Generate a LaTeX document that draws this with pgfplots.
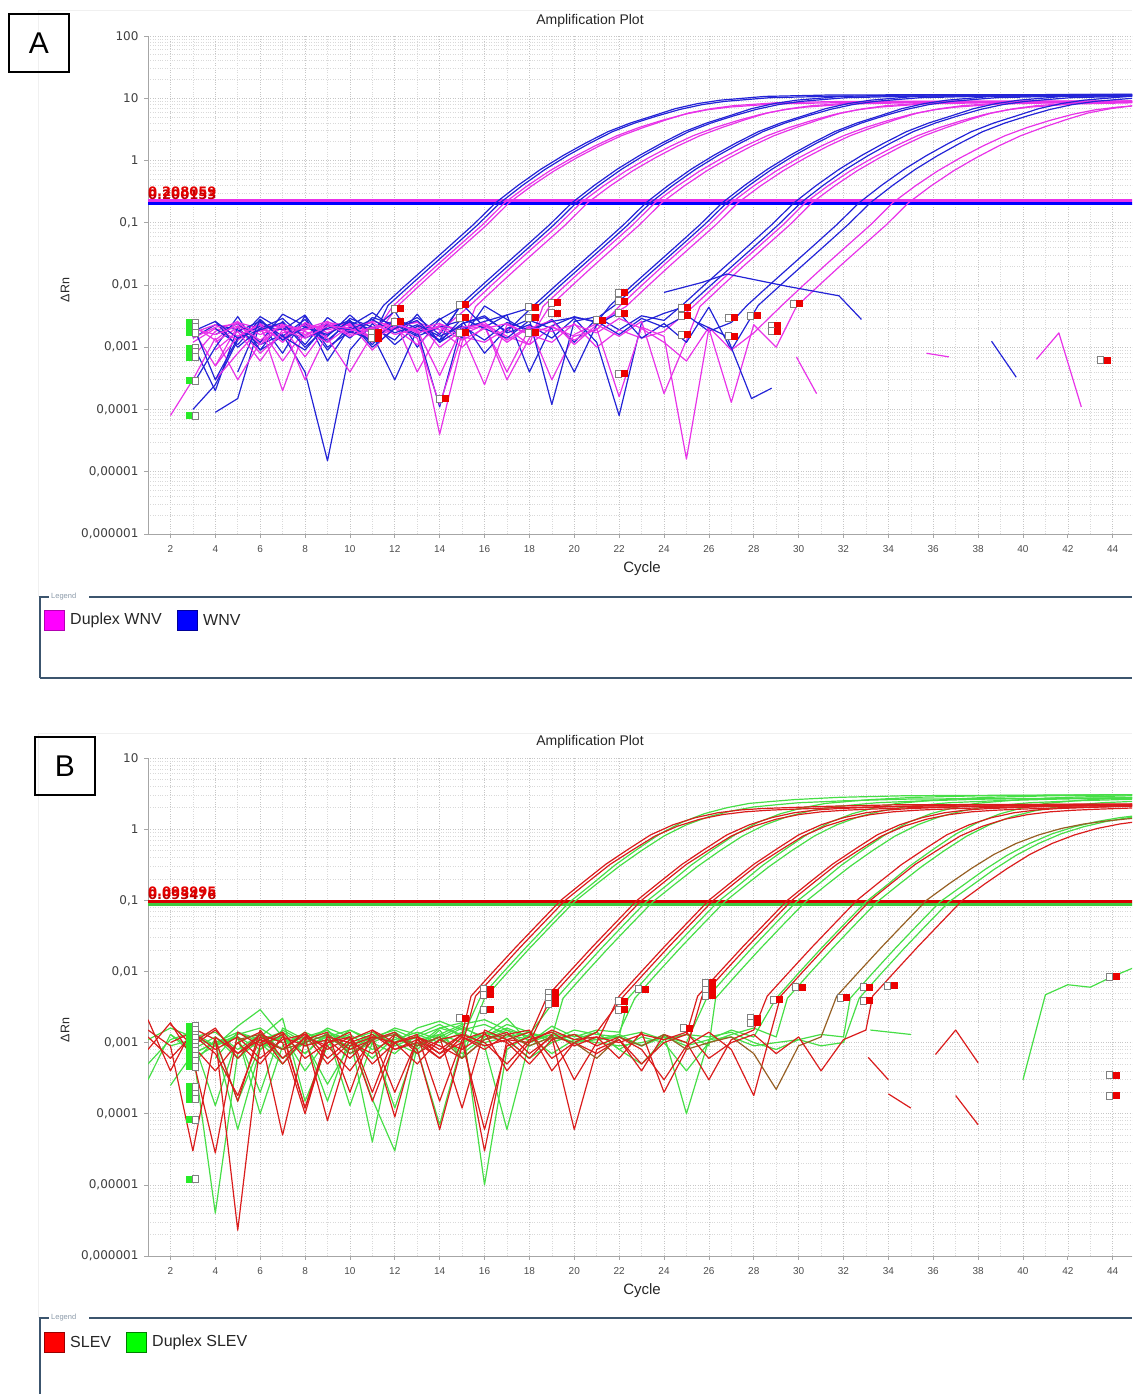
\documentclass[border=0pt]{standalone}
\usepackage{pgfplots}
\pgfplotsset{compat=1.18}
\usepackage{fontspec}
\setmainfont{Liberation Sans}
\newfontfamily\dvsans{DejaVu Sans}

\definecolor{wblue}{RGB}{35,35,215}
\definecolor{wmag}{RGB}{232,50,232}
\definecolor{sred}{RGB}{218,28,28}
\definecolor{sgreen}{RGB}{70,222,70}
\definecolor{sbrown}{RGB}{150,95,35}
\definecolor{mkgreen}{RGB}{40,235,40}
\definecolor{mkred}{RGB}{235,0,0}
\definecolor{legline}{RGB}{60,85,110}
\definecolor{thred}{RGB}{228,0,0}
\definecolor{thred2}{RGB}{190,0,0}
\definecolor{puremag}{RGB}{255,0,255}
\definecolor{pureblue}{RGB}{0,0,255}
\definecolor{purered}{RGB}{255,0,0}
\definecolor{puregreen}{RGB}{0,255,0}

% baseline start / end flags of the instrument software
\pgfdeclareplotmark{bstart}{%
  \pgfpathrectangle{\pgfpoint{-7pt}{-3.5pt}}{\pgfpoint{7pt}{7pt}}%
  \pgfsetfillcolor{mkgreen}\pgfusepath{fill}%
  \pgfpathrectangle{\pgfpoint{0pt}{-3.5pt}}{\pgfpoint{5.5pt}{7pt}}%
  \pgfsetfillcolor{white}\pgfsetstrokecolor{gray}\pgfsetlinewidth{0.8pt}%
  \pgfusepath{fill,stroke}}
\pgfdeclareplotmark{bend}{%
  \pgfpathrectangle{\pgfpoint{-6pt}{-3.5pt}}{\pgfpoint{6pt}{7pt}}%
  \pgfsetfillcolor{white}\pgfsetstrokecolor{gray}\pgfsetlinewidth{0.8pt}%
  \pgfusepath{fill,stroke}%
  \pgfpathrectangle{\pgfpoint{0pt}{-3.5pt}}{\pgfpoint{7pt}{7pt}}%
  \pgfsetfillcolor{mkred}\pgfusepath{fill}}

\newcommand\titlefont{\fontsize{14}{16}\selectfont}
\newcommand\ytickfont{\dvsans\fontsize{12}{14}\selectfont}
\newcommand\xtickfont{\fontsize{10}{12}\selectfont}

\pgfplotsset{
  wb/.style={color=wblue, line width=1.2pt, line join=round},
  wm/.style={color=wmag, line width=1.2pt, line join=round},
  sr/.style={color=sred, line width=1.2pt, line join=round},
  sg/.style={color=sgreen, line width=1.2pt, line join=round},
  sb/.style={color=sbrown, line width=1.2pt, line join=round},
}

\begin{document}
\begin{tikzpicture}
\path[use as bounding box] (0pt,0pt) rectangle (1132pt,1394pt);

% light panel frames
\draw[gray!12, line width=0.8pt] (38pt,797pt) -- (38pt,1384pt) -- (1132pt,1384pt);
\draw[gray!12, line width=0.8pt] (38pt,76pt) -- (38pt,661pt) -- (1132pt,661pt);

%=========================== Panel A: WNV ===========================
\begin{axis}[at={(148pt,860pt)}, anchor=south west,
    scale only axis, width=984pt, height=498pt,
    xmin=1, xmax=44.86, ymode=log, ymin=1e-6, ymax=100,
    axis x line*=bottom, axis y line*=left,
    axis line style={draw=gray!70, line width=0.8pt},
    xtick={2,4,...,44},
    xticklabels={2,4,6,8,10,12,14,16,18,20,22,24,26,28,30,32,34,36,38,40,42,44},
    minor x tick num=1,
    ytick={1e-6,1e-5,1e-4,1e-3,1e-2,1e-1,1,10,100},
    yticklabels={{0,000001},{0,00001},{0,0001},{0,001},{0,01},{0,1},1,10,100},
    minor ytick={2e-6,3e-6,4e-6,5e-6,6e-6,7e-6,8e-6,9e-6,
      2e-5,3e-5,4e-5,5e-5,6e-5,7e-5,8e-5,9e-5,
      2e-4,3e-4,4e-4,5e-4,6e-4,7e-4,8e-4,9e-4,
      2e-3,3e-3,4e-3,5e-3,6e-3,7e-3,8e-3,9e-3,
      0.02,0.03,0.04,0.05,0.06,0.07,0.08,0.09,
      0.2,0.3,0.4,0.5,0.6,0.7,0.8,0.9,
      2,3,4,5,6,7,8,9,20,30,40,50,60,70,80,90},
    grid=both,
    major grid style={gray!45, line width=0.6pt, dash pattern=on 0.8pt off 1.6pt},
    minor grid style={gray!30, line width=0.6pt, dash pattern=on 0.8pt off 1.6pt},
    tick align=outside, major tick length=4pt, minor tick length=0pt,
    tick style={gray!70, line width=0.7pt},
    xticklabel style={font=\xtickfont, text=black!70, yshift=-4pt},
    yticklabel style={font=\ytickfont, text=black!75, xshift=-2pt}]

% threshold lines
\addplot[color=wmag, line width=3pt] coordinates {(1,0.229)(46,0.229)};
\addplot[color=blue, line width=3.2pt] coordinates {(1,0.205)(46,0.205)};

% dilution 1
\addplot[wb] coordinates {(3,1.1e-3)(4,2e-4)(5,2.1e-3)(6,9e-4)(7,2.6e-3)(8,1.1e-3)(9,3.0e-3)(10,1.7e-3)(11,2.6e-3)
 (11.5,0.0047)(12.5,0.010)(13.5,0.021)(14.5,0.044)(15.5,0.093)(16.5,0.21)(17.5,0.40)(18.5,0.72)(19.5,1.2)(20.5,1.9)(21.5,2.9)(22.5,4.0)(23.5,5.2)(24.5,6.8)(25.5,8.2)(26.5,9.3)(28.5,10.7)(31.5,11.3)(45,11.5)};
\addplot[wb] coordinates {(4,9e-5)(5,1.5e-4)(6,2.5e-3)(7,8e-4)(8,3.2e-3)(9,6e-4)(10,2.1e-3)(11,1.4e-3)
 (11.7,0.0047)(12.7,0.010)(13.7,0.021)(14.7,0.044)(15.7,0.093)(16.7,0.21)(17.7,0.40)(18.7,0.72)(19.7,1.2)(20.7,1.9)(21.7,2.9)(22.7,4.0)(23.7,5.2)(24.7,6.6)(25.7,7.9)(26.7,8.9)(28.7,10.2)(31.7,10.8)(45,11.0)};
\addplot[wm] coordinates {(3,1.9e-3)(4,5e-4)(5,2.2e-3)(6,1.8e-3)(7,2.4e-3)(8,1.6e-3)(9,2.3e-3)(10,2.0e-3)(11,1.5e-3)
 (11.9,0.0045)(12.9,0.0098)(13.9,0.021)(14.9,0.044)(15.9,0.092)(16.9,0.21)(17.9,0.39)(18.9,0.68)(19.9,1.1)(20.9,1.7)(21.9,2.5)(22.9,3.4)(23.9,4.4)(24.9,5.5)(25.9,6.5)(26.9,7.2)(28.9,8.1)(31.9,8.5)(45,8.6)};
\addplot[wm] coordinates {(2,8e-5)(3,3e-4)(4,1.4e-3)(5,3e-4)(6,1.2e-3)(7,2.1e-3)(8,7e-4)(9,2.2e-3)(10,2.5e-3)(11,1.2e-3)
 (12.1,0.0045)(13.1,0.0098)(14.1,0.021)(15.1,0.044)(16.1,0.092)(17.1,0.21)(18.1,0.39)(19.1,0.68)(20.1,1.1)(21.1,1.7)(22.1,2.5)(23.1,3.4)(24.1,4.5)(25.1,5.8)(26.1,6.8)(27.1,7.6)(29.1,8.5)(32.1,8.9)(45,9.0)};

% dilution 2
\addplot[wb] coordinates {(3,1.4e-3)(4,2.3e-3)(5,1.9e-3)(6,1.1e-3)(7,1.6e-3)(8,4e-4)(9,1.5e-5)(10,9e-4)(11,2.4e-3)(12,1.1e-3)(13,2.2e-3)(14,1.3e-3)
 (14.9,0.0047)(15.9,0.010)(16.9,0.021)(17.9,0.044)(18.9,0.093)(19.9,0.21)(20.9,0.40)(21.9,0.72)(22.9,1.2)(23.9,1.9)(24.9,2.9)(25.9,4.0)(26.9,5.2)(27.9,6.8)(28.9,8.2)(29.9,9.3)(31.9,10.7)(34.9,11.3)(45,11.5)};
\addplot[wb] coordinates {(3,1.0e-4)(4,2.5e-4)(5,1.3e-3)(6,3.1e-3)(7,1.9e-3)(8,2.2e-3)(9,1.3e-3)(10,2.6e-3)(11,1.9e-3)(12,3.8e-3)(13,1.0e-3)(14,2.8e-3)
 (15.1,0.0047)(16.1,0.010)(17.1,0.021)(18.1,0.044)(19.1,0.093)(20.1,0.21)(21.1,0.40)(22.1,0.72)(23.1,1.2)(24.1,1.9)(25.1,2.9)(26.1,4.0)(27.1,5.2)(28.1,6.6)(29.1,7.9)(30.1,8.9)(32.1,10.2)(35.1,10.8)(45,11.0)};
\addplot[wm] coordinates {(3,1.2e-3)(4,2.0e-3)(5,1.3e-3)(6,2.3e-3)(7,2.1e-3)(8,1.5e-3)(9,2.5e-3)(10,2.2e-3)(11,1.9e-3)(12,2.7e-3)(13,4e-4)(14,1.8e-3)
 (15.3,0.0045)(16.3,0.0098)(17.3,0.021)(18.3,0.044)(19.3,0.092)(20.3,0.21)(21.3,0.39)(22.3,0.68)(23.3,1.1)(24.3,1.7)(25.3,2.5)(26.3,3.4)(27.3,4.4)(28.3,5.5)(29.3,6.5)(30.3,7.2)(32.3,8.1)(35.3,8.5)(45,8.6)};
\addplot[wm] coordinates {(4,3e-4)(5,8e-4)(6,2.0e-3)(7,6e-4)(8,1.9e-3)(9,2.3e-3)(10,1.8e-3)(11,2.6e-3)(12,2.2e-3)(13,2.0e-3)(14,4e-5)(15,1.2e-3)
 (15.6,0.0045)(16.6,0.0098)(17.6,0.021)(18.6,0.044)(19.6,0.092)(20.6,0.21)(21.6,0.39)(22.6,0.68)(23.6,1.1)(24.6,1.7)(25.6,2.5)(26.6,3.4)(27.6,4.5)(28.6,5.8)(29.6,6.8)(30.6,7.6)(32.6,8.5)(35.6,8.9)(45,9.0)};

% dilution 3
\addplot[wb] coordinates {(4,1.6e-3)(5,2.4e-3)(6,1.2e-3)(7,3.4e-3)(8,2.2e-3)(9,1.5e-3)(10,3.3e-3)(11,1.6e-3)(12,3e-4)(13,1.9e-3)(14,1.1e-4)(15,2.4e-3)(16,3.0e-3)(17,1.8e-3)
 (18.2,0.0047)(19.2,0.010)(20.2,0.021)(21.2,0.044)(22.2,0.093)(23.2,0.21)(24.2,0.40)(25.2,0.72)(26.2,1.2)(27.2,1.9)(28.2,2.9)(29.2,4.0)(30.2,5.2)(31.2,6.8)(32.2,8.2)(33.2,9.3)(35.2,10.7)(38.2,11.3)(45,11.5)};
\addplot[wb] coordinates {(3,2.5e-4)(4,1.0e-3)(5,3.1e-3)(6,9e-4)(7,1.5e-3)(8,2.8e-3)(9,9e-4)(10,2.2e-3)(11,3.6e-3)(12,2.0e-3)(13,3.0e-3)(14,1.6e-3)(15,4.9e-3)(16,2.1e-3)(17,3.3e-3)
 (18.4,0.0047)(19.4,0.010)(20.4,0.021)(21.4,0.044)(22.4,0.093)(23.4,0.21)(24.4,0.40)(25.4,0.72)(26.4,1.2)(27.4,1.9)(28.4,2.9)(29.4,4.0)(30.4,5.2)(31.4,6.6)(32.4,7.9)(33.4,8.9)(35.4,10.2)(38.4,10.8)(45,11.0)};
\addplot[wm] coordinates {(3,2.2e-3)(4,1.3e-3)(5,2.5e-3)(6,2.0e-3)(7,1.4e-3)(8,2.4e-3)(9,1.9e-3)(10,2.3e-3)(11,1.7e-3)(12,2.1e-3)(13,1.4e-3)(14,1.2e-4)(15,1.6e-3)(16,2.3e-3)(17,1.5e-3)(18,1.1e-3)
 (18.6,0.0045)(19.6,0.0098)(20.6,0.021)(21.6,0.044)(22.6,0.092)(23.6,0.21)(24.6,0.39)(25.6,0.68)(26.6,1.1)(27.6,1.7)(28.6,2.5)(29.6,3.4)(30.6,4.4)(31.6,5.5)(32.6,6.5)(33.6,7.2)(35.6,8.1)(38.6,8.5)(45,8.6)};
\addplot[wm] coordinates {(3,7e-4)(4,1.8e-3)(5,2.6e-3)(6,1.1e-3)(7,2.2e-3)(8,3e-4)(9,1.7e-3)(10,2.4e-3)(11,9e-4)(12,2.2e-3)(13,2.5e-3)(14,1.9e-3)(15,1.0e-3)(16,2.2e-3)(17,3e-4)(18,1.4e-3)
 (18.9,0.0045)(19.9,0.0098)(20.9,0.021)(21.9,0.044)(22.9,0.092)(23.9,0.21)(24.9,0.39)(25.9,0.68)(26.9,1.1)(27.9,1.7)(28.9,2.5)(29.9,3.4)(30.9,4.5)(31.9,5.8)(32.9,6.8)(33.9,7.6)(35.9,8.5)(38.9,8.9)(45,9.0)};

% dilution 4
\addplot[wb] coordinates {(4,2.0e-3)(5,1.1e-3)(6,2.8e-3)(7,1.3e-3)(8,2.4e-3)(9,1.2e-3)(10,2.9e-3)(11,2.1e-3)(12,1.3e-3)(13,3.4e-3)(14,1.2e-3)(15,2.0e-3)(16,2.6e-3)(17,3.3e-3)(18,4e-4)(19,2.2e-3)(20,3.1e-3)(21,2.5e-3)
 (21.6,0.0047)(22.6,0.010)(23.6,0.021)(24.6,0.044)(25.6,0.093)(26.6,0.21)(27.6,0.40)(28.6,0.72)(29.6,1.2)(30.6,1.9)(31.6,2.9)(32.6,4.0)(33.6,5.2)(34.6,6.8)(35.6,8.2)(36.6,9.3)(38.6,10.7)(41.6,11.3)(45,11.5)};
\addplot[wb] coordinates {(3,2.3e-3)(4,3.0e-4)(5,1.4e-3)(6,2.2e-3)(7,1.9e-3)(8,3.3e-3)(9,1.0e-3)(10,1.8e-3)(11,1.3e-3)(12,2.4e-3)(13,1.6e-3)(14,2.9e-3)(15,1.4e-3)(16,4.6e-3)(17,2.8e-3)(18,1.7e-3)(19,2.8e-3)(20,1.2e-3)(21,2.9e-3)
 (21.8,0.0047)(22.8,0.010)(23.8,0.021)(24.8,0.044)(25.8,0.093)(26.8,0.21)(27.8,0.40)(28.8,0.72)(29.8,1.2)(30.8,1.9)(31.8,2.9)(32.8,4.0)(33.8,5.2)(34.8,6.6)(35.8,7.9)(36.8,8.9)(38.8,10.2)(41.8,10.8)(45,11.0)};
\addplot[wm] coordinates {(3,1.7e-3)(4,2.3e-3)(5,1.5e-3)(6,2.4e-3)(7,2e-4)(8,2.0e-3)(9,2.6e-3)(10,1.6e-3)(11,2.1e-3)(12,2.4e-3)(13,1.8e-3)(14,2.2e-3)(15,1.5e-3)(16,1.2e-3)(17,2.0e-3)(18,1.1e-3)(19,2.1e-3)(20,1.5e-3)(21,1.9e-3)
 (22,0.0045)(23,0.0098)(24,0.021)(25,0.044)(26,0.092)(27,0.21)(28,0.39)(29,0.68)(30,1.1)(31,1.7)(32,2.5)(33,3.4)(34,4.4)(35,5.5)(36,6.5)(37,7.2)(39,8.1)(42,8.5)(45,8.6)};
\addplot[wm] coordinates {(4,1.2e-3)(5,2.1e-3)(6,8e-4)(7,1.7e-3)(8,2.3e-3)(9,1.4e-3)(10,4e-4)(11,1.6e-3)(12,2.0e-3)(13,1.1e-3)(14,2.3e-3)(15,1.9e-3)(16,2.5e-3)(17,1.3e-3)(18,2.2e-3)(19,3e-4)(20,1.6e-3)(21,2.4e-3)
 (22.3,0.0045)(23.3,0.0098)(24.3,0.021)(25.3,0.044)(26.3,0.092)(27.3,0.21)(28.3,0.39)(29.3,0.68)(30.3,1.1)(31.3,1.7)(32.3,2.5)(33.3,3.4)(34.3,4.5)(35.3,5.8)(36.3,6.8)(37.3,7.6)(39.3,8.5)(42.3,8.9)(45,9.0)};

% dilution 5
\addplot[wb] coordinates {(5,1.8e-3)(6,2.6e-3)(7,1.5e-3)(8,9e-4)(9,2.4e-3)(10,1.4e-3)(11,3.0e-3)(12,2.3e-3)(13,1.5e-3)(14,2.1e-3)(15,2.7e-3)(16,8e-4)(17,2.0e-3)(18,2.8e-3)(19,1.2e-4)(20,2.6e-3)(21,3.1e-3)(22,1.9e-3)(23,3.2e-3)(24,2.7e-3)
 (24.8,0.0047)(25.8,0.010)(26.8,0.021)(27.8,0.044)(28.8,0.093)(29.8,0.21)(30.8,0.40)(31.8,0.72)(32.8,1.2)(33.8,1.9)(34.8,2.9)(35.8,4.0)(36.8,5.2)(37.8,6.8)(38.8,8.2)(39.8,9.3)(41.8,10.7)(44.8,11.3)(46,11.4)};
\addplot[wb] coordinates {(3,1.8e-3)(4,2.6e-3)(5,1.0e-3)(6,2.0e-3)(7,2.9e-3)(8,1.4e-3)(9,2.0e-3)(10,2.7e-3)(11,1.1e-3)(12,2.9e-3)(13,2.0e-3)(14,1.3e-3)(15,2.4e-3)(16,3.2e-3)(17,1.7e-3)(18,2.3e-3)(19,1.4e-3)(20,2.9e-3)(21,1.2e-3)(22,8e-5)(23,2.5e-3)(24,3.5e-3)
 (25.1,0.0047)(26.1,0.010)(27.1,0.021)(28.1,0.044)(29.1,0.093)(30.1,0.21)(31.1,0.40)(32.1,0.72)(33.1,1.2)(34.1,1.9)(35.1,2.9)(36.1,4.0)(37.1,5.2)(38.1,6.6)(39.1,7.9)(40.1,8.9)(42.1,10.2)(45.1,10.8)};
\addplot[wm] coordinates {(3,1.4e-3)(4,2.1e-3)(5,2.4e-3)(6,1.6e-3)(7,2.2e-3)(8,1.8e-3)(9,1.2e-3)(10,2.2e-3)(11,2.5e-3)(12,1.6e-3)(13,2.0e-3)(14,2.4e-3)(15,1.7e-3)(16,2.5e-4)(17,2.3e-3)(18,1.6e-3)(19,1.2e-3)(20,2.4e-3)(21,1.0e-3)(22,1.9e-3)(23,1.4e-3)(24,1.8e-3)
 (25.3,0.0045)(26.3,0.0098)(27.3,0.021)(28.3,0.044)(29.3,0.092)(30.3,0.21)(31.3,0.39)(32.3,0.68)(33.3,1.1)(34.3,1.7)(35.3,2.5)(36.3,3.4)(37.3,4.4)(38.3,5.5)(39.3,6.5)(40.3,7.2)(42.3,8.1)(45.3,8.5)};
\addplot[wm] coordinates {(4,5e-4)(5,1.5e-3)(6,2.3e-3)(7,1.2e-3)(8,2.5e-3)(9,1.7e-3)(10,2.4e-3)(11,1.4e-3)(12,2.0e-3)(13,2.6e-3)(14,1.0e-3)(15,1.9e-3)(16,2.2e-3)(17,4e-4)(18,2.0e-3)(19,2.7e-3)(20,1.1e-3)(21,2.3e-3)(22,1.5e-3)(23,2.6e-3)(24,1.8e-4)(25,1.3e-3)
 (25.6,0.0045)(26.6,0.0098)(27.6,0.021)(28.6,0.044)(29.6,0.092)(30.6,0.21)(31.6,0.39)(32.6,0.68)(33.6,1.1)(34.6,1.7)(35.6,2.5)(36.6,3.4)(37.6,4.5)(38.6,5.8)(39.6,6.8)(40.6,7.6)(42.6,8.5)(45.6,8.9)};

% dilution 6
\addplot[wb] coordinates {(4,2.6e-3)(5,1.4e-3)(6,1.9e-3)(7,2.5e-3)(8,1.0e-3)(9,2.2e-3)(10,1.9e-3)(11,2.8e-3)(12,1.7e-3)(13,2.3e-3)(14,1.5e-3)(15,2.2e-3)(16,1.3e-3)(17,2.5e-3)(18,1.9e-3)(19,2.6e-3)(20,3.0e-3)(21,2.6e-3)(22,1.6e-3)(23,2.9e-3)(24,2.1e-3)(25,3.3e-3)(26,1.8e-3)(27,2.5e-3)
 (27.7,0.0047)(28.7,0.010)(29.7,0.021)(30.7,0.044)(31.7,0.093)(32.7,0.21)(33.7,0.40)(34.7,0.72)(35.7,1.2)(36.7,1.9)(37.7,2.9)(38.7,4.0)(39.7,5.2)(40.7,6.8)(41.7,8.2)(42.7,9.3)(44.7,10.7)(46,11.0)};
\addplot[wb] coordinates {(5,4e-4)(6,2.8e-3)(7,1.3e-3)(8,2.1e-3)(9,1.6e-3)(10,2.6e-3)(11,1.0e-3)(12,2.0e-3)(13,2.7e-3)(14,1.2e-3)(15,2.9e-3)(16,2.0e-3)(17,1.4e-3)(18,2.7e-3)(19,2.0e-3)(20,4e-4)(21,2.3e-3)(22,3.6e-3)(23,1.4e-3)(24,2.4e-3)(25,1.2e-3)(26,4.4e-3)(27,9e-4)
 (28.2,0.0047)(29.2,0.010)(30.2,0.021)(31.2,0.044)(32.2,0.093)(33.2,0.21)(34.2,0.40)(35.2,0.72)(36.2,1.2)(37.2,1.9)(38.2,2.9)(39.2,4.0)(40.2,5.2)(41.2,6.6)(42.2,7.9)(43.2,8.9)(45.2,10.2)};
\addplot[wm] coordinates {(3,2.0e-3)(4,1.6e-3)(5,2.2e-3)(6,1.3e-3)(7,2.3e-3)(8,1.9e-3)(9,2.4e-3)(10,1.5e-3)(11,2.0e-3)(12,2.3e-3)(13,1.9e-3)(14,3.5e-4)(15,2.1e-3)(16,2.3e-3)(17,1.2e-3)(18,2.1e-3)(19,1.8e-3)(20,2.3e-3)(21,1.7e-3)(22,2.9e-3)(23,2.0e-3)(24,1.2e-3)(25,6e-4)(26,2.1e-3)(27,9e-4)(28,1.7e-3)
 (29.2,0.0045)(30.2,0.0098)(31.2,0.021)(32.2,0.044)(33.2,0.092)(34.2,0.21)(35.2,0.39)(36.2,0.68)(37.2,1.1)(38.2,1.7)(39.2,2.5)(40.2,3.4)(41.2,4.4)(42.2,5.5)(43.2,6.5)(44.2,7.2)(46.2,8.1)};
\addplot[wm] coordinates {(4,9e-4)(5,1.8e-3)(6,6e-4)(7,1.9e-3)(8,1.4e-3)(9,2.2e-3)(10,2.0e-3)(11,1.4e-3)(12,2.5e-3)(13,1.7e-3)(14,2.1e-3)(15,1.3e-3)(16,2.0e-3)(17,2.4e-3)(18,1.6e-3)(19,2.2e-3)(20,1.3e-3)(21,2.0e-3)(22,1.6e-4)(23,2.1e-3)(24,1.5e-3)(25,1.6e-5)(26,2.0e-3)(27,1.3e-4)(28,2.3e-3)(29,1.0e-3)
 (29.9,0.0045)(30.9,0.0098)(31.9,0.021)(32.9,0.044)(33.9,0.092)(34.9,0.21)(35.9,0.39)(36.9,0.68)(37.9,1.1)(38.9,1.7)(39.9,2.5)(40.9,3.4)(41.9,4.5)(42.9,5.8)(43.9,6.8)(44.9,7.6)};

% negative controls and late fragments
\addplot[wb] coordinates {(24,7.6e-3)(25.7,1.1e-2)(26.8,1.5e-2)(29.5,9.5e-3)(31.8,6.7e-3)(32.8,2.8e-3)};
\addplot[wb] coordinates {(25.5,2.5e-3)(26.8,1.5e-3)(27.9,1.5e-4)(28.8,2.2e-4)};
\addplot[wb] coordinates {(38.6,1.25e-3)(39.7,3.3e-4)};
\addplot[wm] coordinates {(29.9,7e-4)(30.8,1.8e-4)};
\addplot[wm] coordinates {(35.7,8e-4)(36.7,7e-4)};
\addplot[wm] coordinates {(40.6,6.4e-4)(41.6,1.7e-3)(42.6,1.1e-4)};

% baseline flags
\addplot[only marks, mark=bstart] coordinates {(3,2.5e-3)(3,2.1e-3)(3,1.7e-3)(3,9.7e-4)(3,8.3e-4)(3,6.9e-4)(3,2.9e-4)(3,8e-5)};
\addplot[only marks, mark=bend] coordinates {(11.1,1.7e-3)(11.1,1.4e-3)(12.1,4.2e-3)(12.1,2.6e-3)(14.1,1.5e-4)(15,4.8e-3)(15,3.0e-3)(15,1.7e-3)(18.1,4.4e-3)(18.1,3.0e-3)(18.1,1.7e-3)(19.1,5.2e-3)(19.1,3.5e-3)(21.1,2.7e-3)(22.1,7.5e-3)(22.1,5.5e-3)(22.1,3.5e-3)(22.1,3.8e-4)(24.9,4.3e-3)(24.9,3.2e-3)(24.9,1.6e-3)(27,3.0e-3)(27,1.5e-3)(28,3.2e-3)(28.9,2.2e-3)(28.9,1.8e-3)(29.9,5.0e-3)(43.6,6.2e-4)};

% threshold values
\node[anchor=south west, inner sep=0pt, text=thred2, font=\dvsans\bfseries\fontsize{13}{13}\selectfont] at (axis cs:1,0.232) {0.200153};
\node[anchor=south west, inner sep=0pt, text=thred, font=\dvsans\bfseries\fontsize{13}{13}\selectfont] at (axis cs:1,0.262) {0.208059};
\end{axis}

\node[font=\titlefont, text=black!85] at (590pt,1373pt) {Amplification Plot};
\node[font=\fontsize{12.5}{14}\selectfont, text=black!85, rotate=90] at (65pt,1104pt) {ΔRn};
\node[font=\fontsize{15}{17}\selectfont, text=black!85] at (642pt,825pt) {Cycle};
\draw[line width=1.3pt] (9pt,1322pt) rectangle (69pt,1380pt);
\node[font=\fontsize{30}{32}\selectfont] at (39pt,1351pt) {A};

% legend A
\draw[legline, line width=1.2pt] (40pt,716pt) -- (40pt,797pt) -- (49pt,797pt);
\node[anchor=west, inner sep=1pt, text=legline!60, font=\fontsize{7.5}{8}\selectfont] at (50pt,797pt) {Legend};
\draw[legline, line width=1.2pt] (89pt,797pt) -- (1132pt,797pt);
\draw[legline, line width=1.2pt] (40pt,716pt) -- (1132pt,716pt);
\filldraw[fill=puremag, draw=puremag!70!black, line width=0.6pt] (44pt,764pt) rectangle (64pt,784pt);
\node[anchor=west, inner sep=0pt, font=\fontsize{16}{18}\selectfont, text=black!85] at (70pt,774pt) {Duplex WNV};
\filldraw[fill=pureblue, draw=pureblue!60!black, line width=0.6pt] (177pt,764pt) rectangle (197pt,784pt);
\node[anchor=west, inner sep=0pt, font=\fontsize{16}{18}\selectfont, text=black!85] at (203pt,774pt) {WNV};

%=========================== Panel B: SLEV ===========================
\begin{axis}[at={(148pt,138pt)}, anchor=south west,
    scale only axis, width=984pt, height=498pt,
    xmin=1, xmax=44.86, ymode=log, ymin=1e-6, ymax=10,
    axis x line*=bottom, axis y line*=left,
    axis line style={draw=gray!70, line width=0.8pt},
    xtick={2,4,...,44},
    xticklabels={2,4,6,8,10,12,14,16,18,20,22,24,26,28,30,32,34,36,38,40,42,44},
    minor x tick num=1,
    ytick={1e-6,1e-5,1e-4,1e-3,1e-2,1e-1,1,10},
    yticklabels={{0,000001},{0,00001},{0,0001},{0,001},{0,01},{0,1},1,10},
    minor ytick={2e-6,3e-6,4e-6,5e-6,6e-6,7e-6,8e-6,9e-6,
      2e-5,3e-5,4e-5,5e-5,6e-5,7e-5,8e-5,9e-5,
      2e-4,3e-4,4e-4,5e-4,6e-4,7e-4,8e-4,9e-4,
      2e-3,3e-3,4e-3,5e-3,6e-3,7e-3,8e-3,9e-3,
      0.02,0.03,0.04,0.05,0.06,0.07,0.08,0.09,
      0.2,0.3,0.4,0.5,0.6,0.7,0.8,0.9,
      2,3,4,5,6,7,8,9},
    grid=both,
    major grid style={gray!45, line width=0.6pt, dash pattern=on 0.8pt off 1.6pt},
    minor grid style={gray!30, line width=0.6pt, dash pattern=on 0.8pt off 1.6pt},
    tick align=outside, major tick length=4pt, minor tick length=0pt,
    tick style={gray!70, line width=0.7pt},
    xticklabel style={font=\xtickfont, text=black!70, yshift=-4pt},
    yticklabel style={font=\ytickfont, text=black!75, xshift=-2pt}]

\addplot[color=sgreen!90!black, line width=3pt] coordinates {(1,0.088)(46,0.088)};
\addplot[color=red!85!black, line width=3.2pt] coordinates {(1,0.097)(46,0.097)};

% duplex SLEV
\addplot[sg] coordinates {(1,3e-4)(2,1.3e-3)(3,8e-4)(4,4e-6)(5,7e-4)(6,1.2e-3)(7,2.2e-3)(8,1.5e-4)(9,9e-4)(10,1.5e-3)(11,1.1e-3)(12,1.6e-3)(13,1.3e-3)(14,1.8e-3)(15,1.2e-3)
 (15.8,0.0042)(16.8,0.0095)(17.8,0.021)(18.8,0.045)(19.8,0.095)(20.8,0.17)(21.8,0.31)(22.8,0.52)(23.8,0.85)(24.8,1.25)(25.8,1.65)(26.8,2.0)(27.8,2.3)(28.8,2.45)(29.8,2.6)(31.8,2.8)(34.8,2.95)(45,3.05)};
\addplot[sg] coordinates {(2,9e-4)(3,1.1e-3)(4,1.3e-4)(5,1.2e-3)(6,2e-4)(7,1.6e-3)(8,1.1e-3)(9,1.5e-4)(10,1.2e-3)(11,4e-5)(12,1.4e-3)(13,8e-4)(14,1.5e-3)(15,6e-4)
 (16,0.0042)(17,0.0095)(18,0.021)(19,0.045)(20,0.095)(21,0.17)(22,0.30)(23,0.50)(24,0.80)(25,1.15)(26,1.50)(27,1.80)(28,2.05)(29,2.2)(30,2.35)(32,2.5)(35,2.65)(45,2.75)};
\addplot[sg] coordinates {(1,5e-4)(2,1.1e-3)(3,1.4e-3)(4,9e-4)(5,1.7e-3)(6,2.9e-3)(7,1.2e-3)(8,7e-4)(9,1.3e-3)(10,1.3e-4)(11,1.0e-3)(12,1.4e-3)(13,9e-4)(14,1.6e-3)(15,1.9e-3)(16,1.0e-5)(17,8e-4)(18,1.3e-3)
 (19.2,0.0042)(20.2,0.0095)(21.2,0.021)(22.2,0.045)(23.2,0.095)(24.2,0.17)(25.2,0.31)(26.2,0.52)(27.2,0.85)(28.2,1.25)(29.2,1.65)(30.2,2.0)(31.2,2.3)(32.2,2.45)(33.2,2.6)(35.2,2.8)(38.2,2.95)(45,3.05)};
\addplot[sg] coordinates {(2,2.5e-4)(3,7e-4)(4,1.0e-3)(5,6e-5)(6,8e-4)(7,1.5e-3)(8,1.0e-3)(9,1.6e-3)(10,1.2e-3)(11,1.6e-4)(12,3e-5)(13,9e-4)(14,1.2e-3)(15,1.7e-3)(16,1.1e-3)(17,1.5e-3)(18,9e-4)(19,1.2e-3)
 (19.5,0.0042)(20.5,0.0095)(21.5,0.021)(22.5,0.045)(23.5,0.095)(24.5,0.17)(25.5,0.30)(26.5,0.50)(27.5,0.80)(28.5,1.15)(29.5,1.50)(30.5,1.80)(31.5,2.05)(32.5,2.2)(33.5,2.35)(35.5,2.5)(38.5,2.65)(45,2.75)};
\addplot[sg] coordinates {(1,1.1e-3)(2,1.6e-3)(3,1.2e-3)(4,1.4e-3)(5,8e-4)(6,1.3e-3)(7,6e-4)(8,1.0e-3)(9,2.6e-4)(10,9e-4)(11,1.3e-3)(12,1.0e-3)(13,1.6e-3)(14,2.0e-3)(15,1.5e-3)(16,1.8e-3)(17,1.3e-3)(18,1.1e-3)(19,1.3e-3)(20,1.0e-3)(21,1.1e-3)(22,1.2e-3)
 (22.4,0.0042)(23.4,0.0095)(24.4,0.021)(25.4,0.045)(26.4,0.095)(27.4,0.17)(28.4,0.31)(29.4,0.52)(30.4,0.85)(31.4,1.25)(32.4,1.65)(33.4,2.0)(34.4,2.3)(35.4,2.45)(36.4,2.6)(38.4,2.8)(41.4,2.95)(45,3.05)};
\addplot[sg] coordinates {(3,5e-4)(4,1.1e-3)(5,1.5e-4)(6,9e-4)(7,1.2e-3)(8,7e-4)(9,1.4e-3)(10,1.1e-3)(11,6e-4)(12,1.2e-3)(13,8e-4)(14,7e-5)(15,1.0e-3)(16,1.3e-3)(17,2.2e-3)(18,1.0e-3)(19,1.7e-3)(20,1.2e-3)(21,1.5e-3)(22,1.4e-3)
 (22.7,0.0042)(23.7,0.0095)(24.7,0.021)(25.7,0.045)(26.7,0.095)(27.7,0.17)(28.7,0.30)(29.7,0.50)(30.7,0.80)(31.7,1.15)(32.7,1.50)(33.7,1.80)(34.7,2.05)(35.7,2.2)(36.7,2.35)(38.7,2.5)(41.7,2.65)(45,2.75)};
\addplot[sg] coordinates {(2,1.3e-3)(3,7e-4)(4,1.0e-3)(5,1.2e-3)(6,1e-4)(7,9e-4)(8,1.4e-3)(9,1.0e-3)(10,1.3e-3)(11,8e-4)(12,1.1e-3)(13,1.4e-3)(14,1.1e-3)(15,1.6e-3)(16,1.2e-3)(17,1.8e-3)(18,1.4e-3)(19,1.0e-3)(20,1.3e-3)(21,1.1e-3)(22,1.3e-3)(23,9e-4)(24,1.2e-3)(25,1.0e-3)
 (25.9,0.0042)(26.9,0.0095)(27.9,0.021)(28.9,0.045)(29.9,0.095)(30.9,0.17)(31.9,0.31)(32.9,0.52)(33.9,0.85)(34.9,1.25)(35.9,1.65)(36.9,2.0)(37.9,2.3)(38.9,2.45)(39.9,2.6)(41.9,2.8)(44.9,2.95)};
\addplot[sg] coordinates {(4,6e-4)(5,1.4e-3)(6,1.0e-3)(7,5e-4)(8,1.1e-3)(9,1.5e-3)(10,7e-4)(11,1.0e-3)(12,1.2e-4)(13,1.0e-3)(14,1.3e-3)(15,7e-4)(16,1.2e-3)(17,1.6e-3)(18,1.2e-3)(19,7e-4)(20,1.1e-3)(21,1.4e-3)(22,8e-4)(23,5e-4)(24,1.1e-3)(25,1.3e-3)(26,9e-4)
 (26.3,0.0042)(27.3,0.0095)(28.3,0.021)(29.3,0.045)(30.3,0.095)(31.3,0.17)(32.3,0.30)(33.3,0.50)(34.3,0.80)(35.3,1.15)(36.3,1.50)(37.3,1.80)(38.3,2.05)(39.3,2.2)(40.3,2.35)(42.3,2.5)(45.3,2.65)};
\addplot[sg] coordinates {(3,1.2e-3)(4,9e-4)(5,1.3e-3)(6,1.6e-3)(7,1.0e-3)(8,1.2e-3)(9,1.5e-3)(10,8e-4)(11,1.2e-3)(12,1.5e-3)(13,1.1e-3)(14,1.3e-3)(15,1.8e-3)(16,2.1e-3)(17,1.5e-3)(18,1.2e-3)(19,1.4e-3)(20,1.1e-3)(21,1.0e-3)(22,9e-4)(23,1.0e-3)(24,1.2e-3)(25,9e-4)(26,1.1e-3)(27,1.5e-3)(28,1.2e-3)
 (29,0.0042)(30,0.0095)(31,0.021)(32,0.045)(33,0.095)(34,0.17)(35,0.31)(36,0.52)(37,0.85)(38,1.25)(39,1.65)(40,2.0)(41,2.3)(42,2.45)(43,2.6)(45,2.8)};
\addplot[sg] coordinates {(3,8e-4)(4,1.2e-3)(5,6e-4)(6,1.1e-3)(7,1.4e-3)(8,9e-4)(9,1.2e-3)(10,1.5e-3)(11,1.0e-3)(12,7e-4)(13,1.3e-3)(14,1.0e-3)(15,1.4e-3)(16,9e-4)(17,6e-5)(18,1.0e-3)(19,1.3e-3)(20,1.0e-3)(21,1.4e-3)(22,8e-4)(23,1.2e-3)(24,1.0e-3)(25,4e-4)(26,1.0e-3)(27,1.3e-3)(28,1.6e-3)(29,1.2e-3)
 (29.5,0.0042)(30.5,0.0095)(31.5,0.021)(32.5,0.045)(33.5,0.095)(34.5,0.17)(35.5,0.30)(36.5,0.50)(37.5,0.80)(38.5,1.15)(39.5,1.50)(40.5,1.80)(41.5,2.05)(42.5,2.2)(43.5,2.35)(45.5,2.5)};
\addplot[sg] coordinates {(4,1.0e-3)(5,1.4e-3)(6,1.1e-3)(7,6e-4)(8,1.0e-3)(9,1.3e-3)(10,1.1e-3)(11,1.4e-3)(12,9e-4)(13,1.2e-3)(14,1.6e-3)(15,1.3e-3)(16,1.0e-3)(17,1.2e-3)(18,1.4e-3)(19,1.1e-3)(20,1.5e-3)(21,1.3e-3)(22,1.2e-3)(23,1.4e-3)(24,1.1e-3)(25,1.3e-3)(26,1.2e-3)(27,1.4e-3)(28,1.0e-3)(29,8e-4)(30,1.1e-3)(31,1.3e-3)(32,1.2e-3)
 (32.3,0.0042)(33.3,0.0095)(34.3,0.021)(35.3,0.045)(36.3,0.095)(37.3,0.16)(38.3,0.27)(39.3,0.43)(40.3,0.63)(41.3,0.86)(42.3,1.08)(43.3,1.28)(44.3,1.45)(45.3,1.58)};
\addplot[sg] coordinates {(3,6e-4)(4,9e-4)(5,1.2e-3)(6,8e-4)(7,1.3e-3)(8,4e-4)(9,1.1e-3)(10,9e-4)(11,1.2e-3)(12,1.0e-3)(13,7e-4)(14,1.3e-3)(15,1.0e-3)(16,1.4e-3)(17,1.1e-3)(18,6e-4)(19,1.0e-3)(20,1.3e-3)(21,1.1e-3)(22,1.2e-3)(23,9e-4)(24,1.3e-3)(25,1.0e-4)(26,1.1e-3)(27,1.2e-3)(28,9e-4)(29,1.0e-3)(30,1.1e-3)(31,9e-4)(32,1.0e-3)
 (32.7,0.0042)(33.7,0.0095)(34.7,0.021)(35.7,0.045)(36.7,0.095)(37.7,0.16)(38.7,0.27)(39.7,0.43)(40.7,0.63)(41.7,0.86)(42.7,1.08)(43.7,1.28)(44.7,1.45)(45.7,1.58)};
\addplot[sg] coordinates {(40,3.0e-4)(41,4.7e-3)(42,6.5e-3)(43,6.0e-3)(44,8.5e-3)(45,1.15e-2)};
\addplot[sg] coordinates {(33.2,1.5e-3)(35,1.3e-3)};

% SLEV
\addplot[sr] coordinates {(1,2.1e-3)(2,4e-4)(3,1.6e-3)(4,1.1e-3)(5,1.5e-4)(6,1.5e-3)(7,6e-4)(8,1.2e-3)(9,8e-5)(10,9e-4)(11,1.2e-3)(12,2e-4)(13,1.1e-3)(14,7e-4)(15,1.3e-3)
 (15.4,0.0045)(16.4,0.010)(17.4,0.022)(18.4,0.047)(19.4,0.10)(20.4,0.18)(21.4,0.32)(22.4,0.52)(23.4,0.83)(24.4,1.15)(25.4,1.45)(26.4,1.70)(27.4,1.86)(28.4,1.95)(29.4,2.0)(31.4,2.1)(34.4,2.2)(45,2.25)};
\addplot[sr] coordinates {(1,8e-4)(2,1.9e-3)(3,6e-4)(4,2.8e-5)(5,1.4e-3)(6,9e-4)(7,1.3e-3)(8,1.2e-4)(9,1.0e-3)(10,1.4e-3)(11,2e-4)(12,1.3e-3)(13,8e-4)(14,6e-5)(15,9e-4)
 (15.6,0.0045)(16.6,0.010)(17.6,0.022)(18.6,0.047)(19.6,0.10)(20.6,0.18)(21.6,0.32)(22.6,0.51)(23.6,0.80)(24.6,1.10)(25.6,1.38)(26.6,1.60)(27.6,1.75)(28.6,1.84)(29.6,1.9)(31.6,2.0)(34.6,2.1)(45,2.15)};
\addplot[sr] coordinates {(1,1.5e-3)(2,9e-4)(3,3e-5)(4,1.2e-3)(5,2.3e-6)(6,1.0e-3)(7,1.4e-3)(8,1.2e-4)(9,1.3e-3)(10,8e-4)(11,1.1e-3)(12,9e-5)(13,1.2e-3)(14,7e-4)(15,1.0e-3)(16,6e-5)(17,9e-4)(18,1.2e-3)
 (18.8,0.0045)(19.8,0.010)(20.8,0.022)(21.8,0.047)(22.8,0.10)(23.8,0.18)(24.8,0.32)(25.8,0.52)(26.8,0.83)(27.8,1.15)(28.8,1.45)(29.8,1.70)(30.8,1.86)(31.8,1.95)(32.8,2.0)(34.8,2.1)(37.8,2.2)(45,2.25)};
\addplot[sr] coordinates {(2,1.8e-3)(3,9e-4)(4,1.5e-3)(5,7e-4)(6,1.3e-3)(7,5e-5)(8,1.1e-3)(9,1.4e-3)(10,2e-4)(11,1.5e-3)(12,1.0e-3)(13,1.3e-3)(14,1.5e-4)(15,1.1e-3)(16,1.4e-3)(17,4e-4)(18,1.0e-3)
 (19,0.0045)(20,0.010)(21,0.022)(22,0.047)(23,0.10)(24,0.18)(25,0.32)(26,0.51)(27,0.80)(28,1.10)(29,1.38)(30,1.60)(31,1.75)(32,1.84)(33,1.9)(35,2.0)(38,2.1)(45,2.15)};
\addplot[sr] coordinates {(3,1.0e-3)(4,1.6e-3)(5,6e-4)(6,1.3e-3)(7,1.0e-3)(8,1e-4)(9,1.2e-3)(10,1.0e-3)(11,7e-4)(12,1.3e-3)(13,9e-4)(14,1.2e-3)(15,1.2e-4)(16,1.5e-3)(17,1.1e-3)(18,6e-4)(19,1.3e-3)(20,3e-4)(21,1.0e-3)
 (22,0.0045)(23,0.010)(24,0.022)(25,0.047)(26,0.10)(27,0.18)(28,0.32)(29,0.52)(30,0.83)(31,1.15)(32,1.45)(33,1.70)(34,1.86)(35,1.95)(36,2.0)(38,2.1)(41,2.2)(45,2.25)};
\addplot[sr] coordinates {(1,1.2e-3)(2,6e-4)(3,1.3e-3)(4,7e-4)(5,1.8e-4)(6,1.2e-3)(7,8e-4)(8,1.4e-3)(9,6e-4)(10,1.1e-3)(11,1.5e-3)(12,8e-4)(13,1.0e-3)(14,6e-4)(15,1.2e-3)(16,8e-4)(17,1.3e-3)(18,1.5e-3)(19,4e-4)(20,1.0e-3)(21,1.4e-3)
 (22.2,0.0045)(23.2,0.010)(24.2,0.022)(25.2,0.047)(26.2,0.10)(27.2,0.18)(28.2,0.32)(29.2,0.51)(30.2,0.80)(31.2,1.10)(32.2,1.38)(33.2,1.60)(34.2,1.75)(35.2,1.84)(36.2,1.9)(38.2,2.0)(41.2,2.1)(45,2.15)};
\addplot[sr] coordinates {(2,1.0e-3)(3,1.4e-3)(4,8e-4)(5,1.2e-3)(6,6e-4)(7,1.1e-3)(8,1.3e-3)(9,8e-4)(10,1.2e-3)(11,1.5e-4)(12,1.0e-3)(13,1.2e-3)(14,9e-4)(15,6e-4)(16,1.1e-3)(17,1.4e-3)(18,7e-4)(19,1.2e-3)(20,6e-5)(21,8e-4)(22,1.1e-3)(23,5e-4)(24,1.0e-3)(25,1.3e-3)
 (25.5,0.0045)(26.5,0.010)(27.5,0.022)(28.5,0.047)(29.5,0.10)(30.5,0.18)(31.5,0.32)(32.5,0.52)(33.5,0.83)(34.5,1.15)(35.5,1.45)(36.5,1.70)(37.5,1.86)(38.5,1.95)(39.5,2.0)(41.5,2.1)(44.5,2.2)(46,2.22)};
\addplot[sr] coordinates {(3,9e-4)(4,4e-4)(5,1.0e-3)(6,1.4e-3)(7,5e-4)(8,1.2e-3)(9,9e-4)(10,4e-4)(11,1.1e-3)(12,1.4e-3)(13,7e-4)(14,1.1e-3)(15,1.3e-3)(16,3e-5)(17,1.1e-3)(18,1.0e-3)(19,1.5e-3)(20,1.1e-3)(21,1.2e-3)(22,6e-4)(23,1.4e-3)(24,2e-4)(25,8e-4)
 (25.7,0.0045)(26.7,0.010)(27.7,0.022)(28.7,0.047)(29.7,0.10)(30.7,0.18)(31.7,0.32)(32.7,0.51)(33.7,0.80)(34.7,1.10)(35.7,1.38)(36.7,1.60)(37.7,1.75)(38.7,1.84)(39.7,1.9)(41.7,2.0)(44.7,2.1)(46,2.12)};
\addplot[sr] coordinates {(4,1.2e-3)(5,7e-4)(6,1.1e-3)(7,8e-4)(8,1.3e-3)(9,5e-4)(10,1.0e-3)(11,1.3e-3)(12,8e-4)(13,1.1e-3)(14,6e-4)(15,1.2e-3)(16,9e-4)(17,1.1e-3)(18,1.4e-3)(19,6e-4)(20,1.0e-3)(21,7e-4)(22,1.1e-3)(23,4e-4)(24,1.3e-3)(25,1.0e-3)(26,3e-4)(27,1.1e-3)(28,1.5e-3)
 (28.6,0.0045)(29.6,0.010)(30.6,0.022)(31.6,0.047)(32.6,0.10)(33.6,0.18)(34.6,0.32)(35.6,0.52)(36.6,0.83)(37.6,1.15)(38.6,1.45)(39.6,1.70)(40.6,1.86)(41.6,1.95)(42.6,2.0)(44.6,2.1)(46,2.12)};
\addplot[sr] coordinates {(5,1.0e-3)(6,5e-4)(7,1.2e-3)(8,9e-4)(9,1.1e-3)(10,6e-4)(11,1.2e-3)(12,1.0e-3)(13,5e-4)(14,1.1e-3)(15,8e-4)(16,1.3e-3)(17,1.0e-3)(18,5e-4)(19,1.1e-3)(20,1.3e-3)(21,9e-4)(22,1.2e-3)(23,8e-4)(24,3e-4)(25,9e-4)(26,1.4e-3)(27,8e-4)(28,1.8e-4)
 (29.2,0.0045)(30.2,0.010)(31.2,0.022)(32.2,0.047)(33.2,0.10)(34.2,0.18)(35.2,0.32)(36.2,0.51)(37.2,0.80)(38.2,1.10)(39.2,1.38)(40.2,1.60)(41.2,1.75)(42.2,1.84)(43.2,1.9)(45.2,2.0)};
\addplot[sb] coordinates {(5,1.1e-3)(6,1.3e-3)(7,8e-4)(8,1.0e-3)(9,1.3e-3)(10,7e-4)(11,1.1e-3)(12,1.3e-3)(13,9e-4)(14,1.2e-3)(15,6e-4)(16,1.1e-3)(17,1.3e-3)(18,9e-4)(19,1.2e-3)(20,1.0e-3)(21,6e-4)(22,1.2e-3)(23,9e-4)(24,1.3e-3)(25,8e-4)(26,1.0e-3)(27,1.2e-3)(28,7e-4)(29,2.2e-4)(30,9e-4)(31,1.2e-3)
 (31.7,0.0045)(32.7,0.010)(33.7,0.022)(34.7,0.047)(35.7,0.10)(36.7,0.17)(37.7,0.28)(38.7,0.44)(39.7,0.63)(40.7,0.83)(41.7,1.02)(42.7,1.18)(43.7,1.30)(44.7,1.40)(45.7,1.48)};
\addplot[sr] coordinates {(6,1.0e-3)(7,1.4e-3)(8,6e-4)(9,1.0e-3)(10,1.2e-3)(11,5e-4)(12,1.0e-3)(13,1.2e-3)(14,8e-4)(15,1.3e-3)(16,1.0e-3)(17,5e-4)(18,1.1e-3)(19,1.4e-3)(20,9e-4)(21,1.2e-3)(22,1.0e-3)(23,1.3e-3)(24,1.1e-3)(25,1.4e-3)(26,6e-4)(27,1.0e-3)(28,1.3e-3)(29,7e-4)(30,1.2e-3)(31,4e-4)(32,1.1e-3)(33,1.5e-3)
 (33.3,0.0045)(34.3,0.010)(35.3,0.022)(36.3,0.047)(37.3,0.10)(38.3,0.17)(39.3,0.28)(40.3,0.44)(41.3,0.63)(42.3,0.83)(43.3,1.02)(44.3,1.18)(45.3,1.30)};
\addplot[sr] coordinates {(36.1,6.8e-4)(37,1.5e-3)(38,5.2e-4)};
\addplot[sr] coordinates {(37,1.8e-4)(38,7e-5)};
\addplot[sr] coordinates {(34,1.9e-4)(35,1.2e-4)};
\addplot[sr] coordinates {(33.1,6.2e-4)(34,3e-4)};

% baseline flags
\addplot[only marks, mark=bstart] coordinates {(3,1.7e-3)(3,1.5e-3)(3,1.3e-3)(3,1.15e-3)(3,1.0e-3)(3,8.8e-4)(3,7.7e-4)(3,6.6e-4)(3,5.6e-4)(3,4.6e-4)(3,2.4e-4)(3,1.9e-4)(3,1.6e-4)(3,8.3e-5)(3,1.2e-5)};
\addplot[only marks, mark=bend] coordinates {(15,2.2e-3)(16.1,5.6e-3)(16.1,4.7e-3)(16.1,2.9e-3)(19,5.0e-3)(19,4.2e-3)(19,3.5e-3)(22.1,3.8e-3)(22.1,2.9e-3)(23,5.6e-3)(25,1.6e-3)(26,7.0e-3)(26,5.5e-3)(26,4.6e-3)(28,2.2e-3)(28,1.9e-3)(29,4.0e-3)(30,6.0e-3)(32,4.3e-3)(33,6.0e-3)(33,3.9e-3)(34.1,6.3e-3)(44,8.5e-3)(44,3.5e-4)(44,1.8e-4)};

\node[anchor=south west, inner sep=0pt, text=thred2, font=\dvsans\bfseries\fontsize{13}{13}\selectfont] at (axis cs:1,0.100) {0.093476};
\node[anchor=south west, inner sep=0pt, text=thred, font=\dvsans\bfseries\fontsize{13}{13}\selectfont] at (axis cs:1,0.110) {0.098995};
\end{axis}

\node[font=\titlefont, text=black!85] at (590pt,652pt) {Amplification Plot};
\node[font=\fontsize{12.5}{14}\selectfont, text=black!85, rotate=90] at (65pt,364pt) {ΔRn};
\node[font=\fontsize{15}{17}\selectfont, text=black!85] at (642pt,103pt) {Cycle};
\draw[line width=1.3pt] (35pt,599pt) rectangle (95pt,657pt);
\node[font=\fontsize{30}{32}\selectfont] at (65pt,628pt) {B};

% legend B
\draw[legline, line width=1.2pt] (40pt,0pt) -- (40pt,76pt) -- (49pt,76pt);
\node[anchor=west, inner sep=1pt, text=legline!60, font=\fontsize{7.5}{8}\selectfont] at (50pt,76pt) {Legend};
\draw[legline, line width=1.2pt] (89pt,76pt) -- (1132pt,76pt);
\filldraw[fill=purered, draw=purered!60!black, line width=0.6pt] (44pt,42pt) rectangle (64pt,62pt);
\node[anchor=west, inner sep=0pt, font=\fontsize{16}{18}\selectfont, text=black!85] at (70pt,52pt) {SLEV};
\filldraw[fill=puregreen, draw=puregreen!50!black, line width=0.6pt] (126pt,42pt) rectangle (146pt,62pt);
\node[anchor=west, inner sep=0pt, font=\fontsize{16}{18}\selectfont, text=black!85] at (152pt,52pt) {Duplex SLEV};
\end{tikzpicture}
\end{document}
